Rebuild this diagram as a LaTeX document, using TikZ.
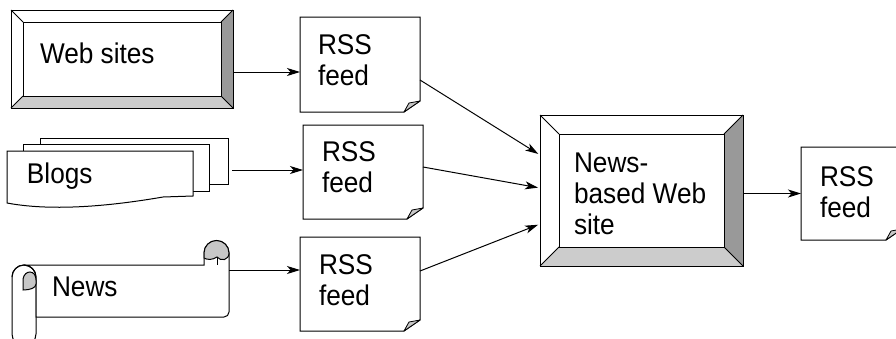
\documentclass[tikz,border=0pt]{standalone}
\usepackage{fontspec}
\setmainfont{Liberation Sans}[FakeStretch=0.92]
\usetikzlibrary{arrows.meta,calc,fit}
\definecolor{bevdark}{gray}{0.6}
\definecolor{bevlight}{gray}{0.8}
\definecolor{curlgray}{gray}{0.78}
\tikzset{
  line/.style={line width=1pt, line join=miter},
  arr/.style={line width=1pt, -{Stealth[length=13pt,width=8pt,inset=3.5pt]}},
  lbl/.style={anchor=north west, inner sep=0pt, outer sep=0pt, align=left,
              font=\fontsize{28.5}{31}\selectfont},
  frame/.style={inner sep=0pt, outer sep=0pt, draw=none}
}
\newcommand\drawbevel[2]{%
  \coordinate (#1-a) at (#1.north west);
  \coordinate (#1-b) at (#1.north east);
  \coordinate (#1-c) at (#1.south east);
  \coordinate (#1-d) at (#1.south west);
  \coordinate (#1-A) at ($(#1.north west)+(#2,#2)$);
  \coordinate (#1-B) at ($(#1.north east)+(-#2,#2)$);
  \coordinate (#1-C) at ($(#1.south east)+(-#2,-#2)$);
  \coordinate (#1-D) at ($(#1.south west)+(#2,-#2)$);
  \fill[white] (#1-a) rectangle (#1-c);
  \fill[bevdark] (#1-b) -- (#1-c) -- (#1-C) -- (#1-B) -- cycle;
  \fill[bevlight] (#1-d) -- (#1-D) -- (#1-C) -- (#1-c) -- cycle;
  \draw[line] (#1-a) rectangle (#1-c);
  \draw[line] (#1-A) rectangle (#1-C);
  \draw[line] (#1-a) -- (#1-A) (#1-b) -- (#1-B) (#1-c) -- (#1-C) (#1-d) -- (#1-D);
}
\newcommand\drawrss[1]{%
  \filldraw[line, fill=white] (#1.north west) -- (#1.north east)
    -- ($(#1.south east)+(0,-11)$) -- ($(#1.south east)+(-16,0)$)
    -- (#1.south west) -- cycle;
  \filldraw[line width=0.8pt, line join=round, fill=curlgray]
    ($(#1.south east)+(-16,0)$) .. controls ($(#1.south east)+(-14,-5)$) .. ($(#1.south east)+(-11,-9)$)
    -- ($(#1.south east)+(0,-11)$) -- cycle;
}
\begin{document}
\begin{tikzpicture}[x=1pt,y=-1pt]
\useasboundingbox (0,0) rectangle (896,338);
\fill[white] (0,0) rectangle (896,338);
\clip (0,0) rectangle (896,338);

% shape frames
\node[frame, fit={(11,10) (233,108)}] (web) {};
\node[frame, fit={(7,138) (228,207)}] (blogs) {};
\node[frame, fit={(12,241) (229,338)}] (news) {};
\node[frame, fit={(300,17) (420,112)}] (rss1) {};
\node[frame, fit={(303,125) (423,219)}] (rss2) {};
\node[frame, fit={(300,237) (420,331)}] (rss3) {};
\node[frame, fit={(540,115) (743,266)}] (hub) {};
\node[frame, fit={(801,147) (902,240)}] (rss4) {};

% Web sites bevel box
\drawbevel{web}{12}
% News-based Web site bevel box
\drawbevel{hub}{19}

% Blogs: stacked pages
\filldraw[line, fill=white] (40,138) rectangle (228,184);
\filldraw[line, fill=white] (23,144) rectangle (209,191);
\filldraw[line, fill=white] (7,151) -- (193,151) -- (193,196) -- (163,197)
  .. controls (128,203) and (60,213) .. (7,203) -- cycle;

% News: scroll
\filldraw[line, fill=white] (12,334) -- (12,277) arc[start angle=180, end angle=360, radius=12]
  -- (36,334) arc[start angle=0, end angle=180, radius=12] -- cycle;
\filldraw[line, fill=white] (24,265) -- (204,265) -- (204,253)
  arc[start angle=180, end angle=360, radius=12.5]
  -- (229,312) arc[start angle=0, end angle=90, radius=5] -- (36,317) -- (36,277)
  arc[start angle=0, end angle=-90, radius=12] -- cycle;
\filldraw[line, fill=curlgray] (204,258) -- (204,253)
  arc[start angle=180, end angle=360, radius=12.5]
  .. controls (229,260) and (221,262) .. (217,257)
  .. controls (213,260) and (207,260) .. (204,258) -- cycle;
\draw[line] (217,257) -- (217,265);
\draw[line] (12,277) arc[start angle=180, end angle=360, radius=12];
\filldraw[line, fill=curlgray] (23,290) -- (23,279)
  .. controls (24,274) and (27,272) .. (30,272)
  .. controls (34,272) and (36,276) .. (36,280) -- (36,284)
  .. controls (36,288) and (30,290) .. (23,290) -- cycle;

% RSS documents
\drawrss{rss1}
\drawrss{rss2}
\drawrss{rss3}
\drawrss{rss4}

% labels
\node[lbl] (tweb) at (40,43) {Web sites};
\node[lbl] (tblogs) at (27,163) {Blogs};
\node[lbl] (tnews) at (52,277) {News};
\node[lbl] (trss1) at (318,35) {RSS\\feed};
\node[lbl] (trss2) at (322,142) {RSS\\feed};
\node[lbl] (trss3) at (319,255) {RSS\\feed};
\node[lbl] (thub) at (574,153) {News-\\based Web\\site};
\node[lbl] (trss4) at (820,167) {RSS\\feed};

% connectors
\draw[arr] (web.east |- 0,72) -- (rss1.west |- 0,72);
\draw[arr, shorten <=4pt] (blogs.east |- 0,170) -- (rss2.west |- 0,170);
\draw[arr] (news.east |- 0,270) -- (rss3.west |- 0,270);
\draw[arr, shorten >=2pt] (rss1.east |- 0,80) -- (hub.west |- 0,155);
\draw[arr, shorten >=2pt] (rss2.east |- 0,167) -- (hub.west |- 0,188);
\draw[arr, shorten >=2pt] (rss3.east |- 0,271) -- (hub.west |- 0,224);
\draw[arr] (hub.east |- rss4.west) -- (rss4.west);
\end{tikzpicture}
\end{document}
